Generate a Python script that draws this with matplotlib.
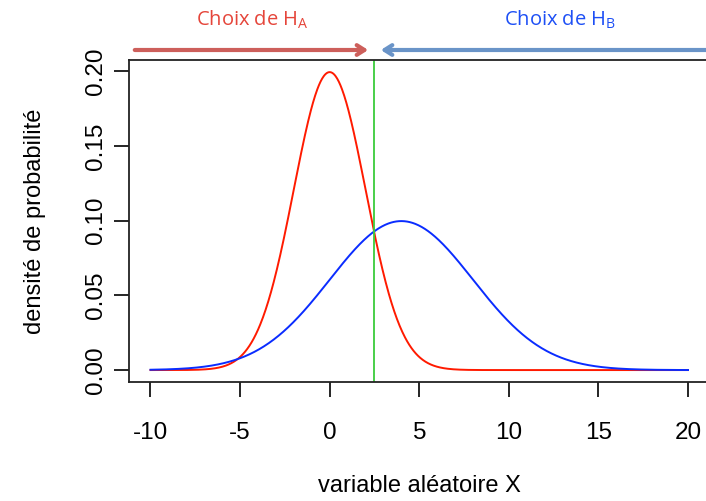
import numpy as np
import matplotlib.pyplot as plt

# Paramètres des deux lois normales (H_A en rouge, H_B en bleu)
moyennes = [0, 4]
ecarts_types = [2, 4]
couleurs = ['#ff1a00', '#0a2cff']
seuil = 2.5

x_min, x_max = -10, 20
x_ticks = [-10, -5, 0, 5, 10, 15, 20]
y_ticks = [0.00, 0.05, 0.10, 0.15, 0.20]
y_tick_labels = ['0.00', '0.05', '0.10', '0.15', '0.20']

plt.rcParams['font.family'] = ['Liberation Sans', 'DejaVu Sans']

fig = plt.figure(figsize=(7.06, 5.01), dpi=100)
ax = fig.add_axes([0.1827, 0.2375, 0.8223, 0.6425])

x = np.linspace(x_min, x_max, 1000)
for mu, sd, c in zip(moyennes, ecarts_types, couleurs):
    dens = np.exp(-0.5 * ((x - mu) / sd) ** 2) / (sd * np.sqrt(2 * np.pi))
    ax.plot(x, dens, color=c, lw=1.4)

ax.axvline(seuil, color='#3ccc3c', lw=1.3)

# Limites façon R (4 % de marge)
ax.set_xlim(-11.2, 21.2)
ax.set_ylim(-0.008, 0.2075)

ax.set_xticks(x_ticks)
ax.set_xticklabels([str(t) for t in x_ticks])
ax.set_yticks(y_ticks)
ax.set_yticklabels(y_tick_labels, rotation=90, va='center')
ax.tick_params(axis='both', direction='out', length=11, width=1.2,
               labelsize=17.5, colors='black')
ax.tick_params(axis='x', pad=18)
ax.tick_params(axis='y', pad=5)
for s in ax.spines.values():
    s.set_linewidth(1.3)
    s.set_color('#222222')

ax.set_xlabel('variable aléatoire X', fontsize=17, labelpad=22)
ax.set_ylabel('densité de probabilité', fontsize=17, labelpad=28)

# Flèches de décision au-dessus du graphique (coordonnées en pixels)
W, H = 706, 501
def fx(px):
    return px / W
def fy(py):
    return 1 - py / H

style_fleche = dict(arrowstyle='->, head_length=0.55, head_width=0.35', lw=3)
ax.annotate('', xy=(fx(371), fy(50)), xytext=(fx(132), fy(50)),
            xycoords='figure fraction', textcoords='figure fraction',
            arrowprops=dict(style_fleche, color='#cd5f5b'))
ax.annotate('', xy=(fx(378), fy(50)), xytext=(fx(712), fy(50)),
            xycoords='figure fraction', textcoords='figure fraction',
            arrowprops=dict(style_fleche, color='#6a94c8'))

fig.text(fx(252), fy(20), r'Choix de H$_\mathregular{A}$', color='#e5453a',
         fontsize=14.5, family='Open Sans', ha='center', va='center')
fig.text(fx(560), fy(20), r'Choix de H$_\mathregular{B}$', color='#1d4ff5',
         fontsize=14.5, family='Open Sans', ha='center', va='center')

fig.savefig('out.png', dpi=100)
